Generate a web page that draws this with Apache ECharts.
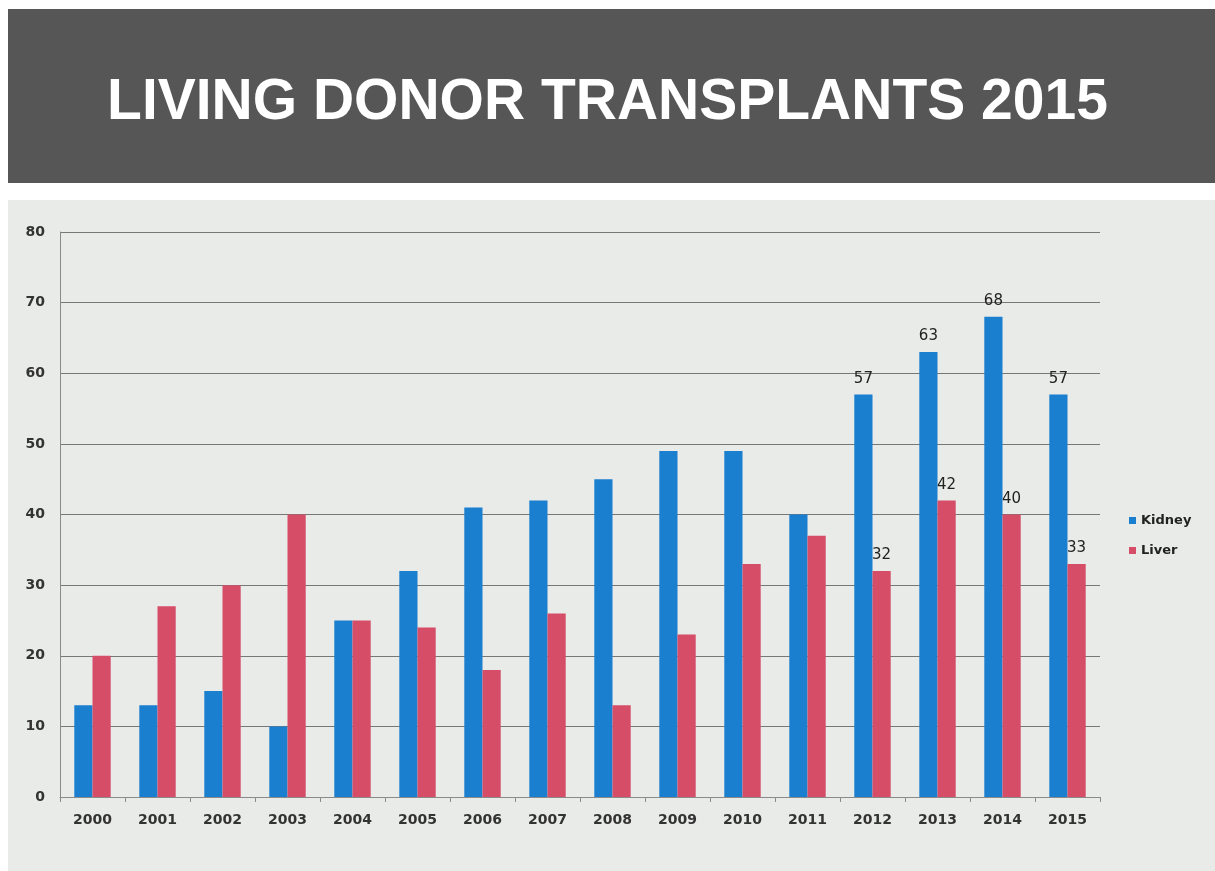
<!DOCTYPE html>
<html>
<head>
<meta charset="utf-8">
<script src="https://cdn.jsdelivr.net/npm/echarts@6/dist/echarts.min.js"></script>
<style>
html,body{margin:0;padding:0;background:#ffffff;}
#c{width:1215px;height:871px;}
</style>
</head>
<body>
<div id="c"></div>
<script>
const title = 'LIVING DONOR TRANSPLANTS 2015';
const years = ['2000','2001','2002','2003','2004','2005','2006','2007','2008','2009','2010','2011','2012','2013','2014','2015'];
const kidney = [13, 13, 15, 10, 25, 32, 41, 42, 45, 49, 49, 40, 57, 63, 68, 57];
const liver  = [20, 27, 30, 40, 25, 24, 18, 26, 13, 23, 33, 37, 32, 42, 40, 33];
const labelledYears = ['2012','2013','2014','2015'];
const yTicks = {min: 0, max: 80, interval: 10};

const blue = '#1b7fd0';
const red = '#d64d68';

function withLabels(values) {
  return values.map((v, i) => ({
    value: v,
    label: { show: labelledYears.indexOf(years[i]) >= 0 }
  }));
}

const chart = echarts.init(document.getElementById('c'), null, {renderer: 'canvas'});
chart.setOption({
  backgroundColor: '#ffffff',
  animation: false,
  graphic: [
    { type: 'rect', z: -10, shape: {x: 8, y: 9, width: 1207, height: 174}, style: {fill: '#555655'} },
    { type: 'rect', z: -10, shape: {x: 8, y: 200, width: 1207, height: 671}, style: {fill: '#e9ebe8'} },
    { type: 'text', z: 10, left: 'center', top: 75,
      style: { text: title, fill: '#ffffff', font: 'bold 57px "Liberation Sans", Arial, sans-serif' } }
  ],
  legend: {
    orient: 'vertical',
    left: 1124,
    top: 509,
    icon: 'rect',
    itemWidth: 7,
    itemHeight: 7,
    itemGap: 17,
    textStyle: { color: '#222', fontSize: 13, fontWeight: 'bold', fontFamily: 'DejaVu Sans' },
    data: ['Kidney', 'Liver']
  },
  grid: { left: 60, right: 115, top: 232, bottom: 74, containLabel: false },
  xAxis: {
    type: 'category',
    data: years,
    axisLine: { show: true, lineStyle: { color: '#8a8a8a', width: 1 } },
    axisTick: { show: true, length: 5, lineStyle: { color: '#8a8a8a' } },
    axisLabel: { color: '#333', fontSize: 14, fontWeight: 'bold', fontFamily: 'DejaVu Sans', margin: 16 }
  },
  yAxis: {
    type: 'value',
    min: yTicks.min, max: yTicks.max, interval: yTicks.interval,
    axisLine: { show: true, lineStyle: { color: '#8a8a8a', width: 1 } },
    axisTick: { show: false },
    splitLine: { show: true, lineStyle: { color: '#777777', width: 1 } },
    axisLabel: { color: '#333', fontSize: 14, fontWeight: 'bold', fontFamily: 'DejaVu Sans', margin: 15 }
  },
  series: [
    {
      name: 'Kidney', type: 'bar', data: withLabels(kidney),
      itemStyle: { color: blue },
      barGap: '0%', barCategoryGap: '44%',
      label: { position: 'top', distance: 8, color: '#222', fontSize: 15, fontFamily: 'DejaVu Sans' }
    },
    {
      name: 'Liver', type: 'bar', data: withLabels(liver),
      itemStyle: { color: red },
      barGap: '0%', barCategoryGap: '44%',
      label: { position: 'top', distance: 8, color: '#222', fontSize: 15, fontFamily: 'DejaVu Sans' }
    }
  ]
});
</script>
</body>
</html>
